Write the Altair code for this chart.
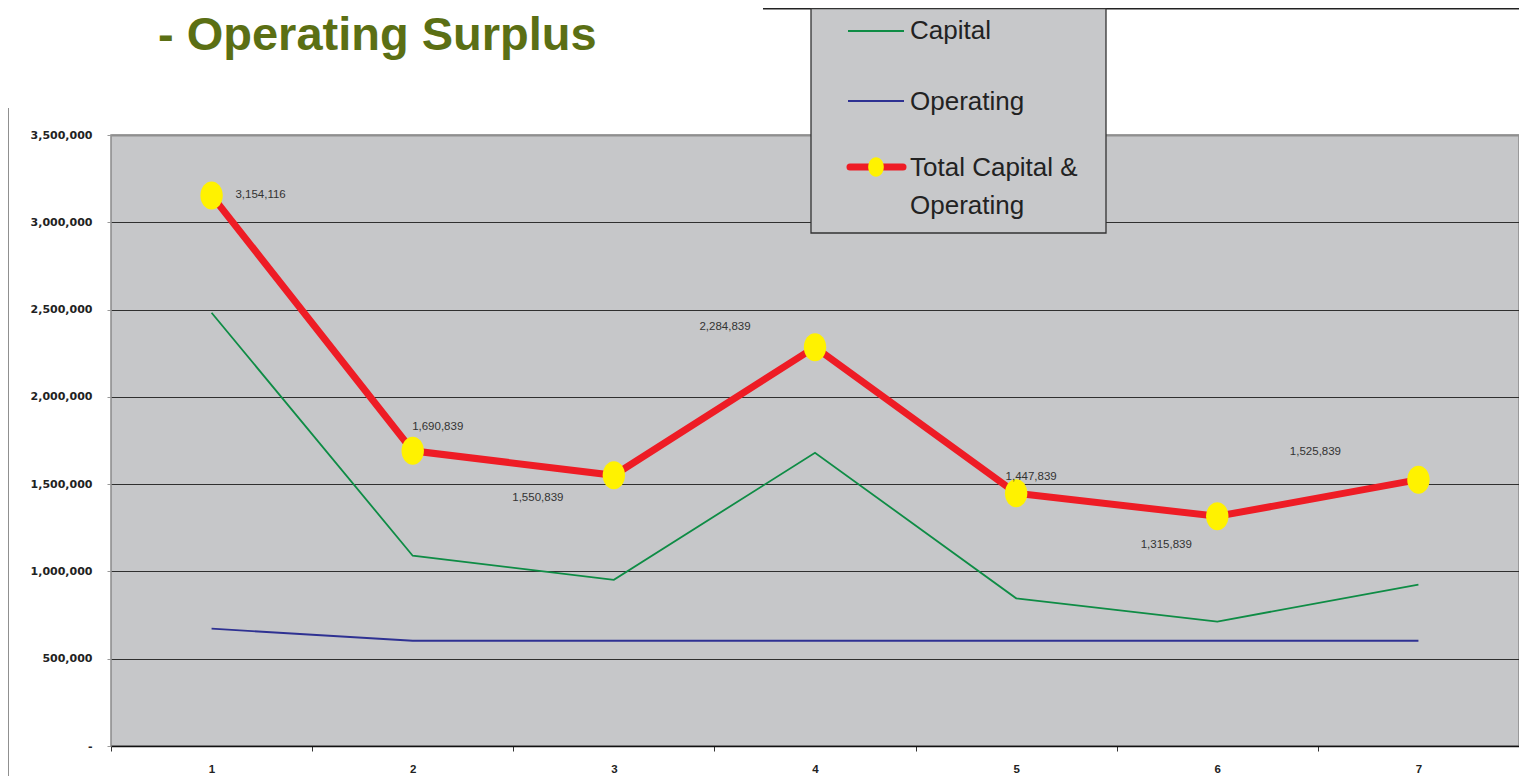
import altair as alt
import pandas as pd

# ---- data ----
periods = [1, 2, 3, 4, 5, 6, 7]
capital = [2482000, 1090000, 952000, 1680000, 846000, 713000, 924000]
operating = [672000, 603000, 603000, 603000, 603000, 603000, 603000]
total = [3154116, 1690839, 1550839, 2284839, 1447839, 1315839, 1525839]
y_ticks = [0, 500000, 1000000, 1500000, 2000000, 2500000, 3000000, 3500000]
x_ticks = [0.5, 1.5, 2.5, 3.5, 4.5, 5.5, 6.5, 7.5]
legend_labels = ["Capital", "Operating", "Total Capital &\nOperating"]
title_text = "- Operating Surplus"

df = pd.DataFrame({"period": periods, "capital": capital,
                   "operating": operating, "total": total})
one = pd.DataFrame({"k": [0]})

# ---- style ----
W, H = 1408, 611
GREEN = "#0e8c45"
BLUE = "#2e3192"
RED = "#ee1c25"
YELLOW = "#fff200"
OLIVE = "#5b6f14"
SANS = "Liberation Sans"
ELLIPSE = "M 0.8 0 A 0.8 1 0 1 1 -0.8 0 A 0.8 1 0 1 1 0.8 0 Z"

xscale = alt.Scale(domain=[0.5, 7.5], nice=False, zero=False)
yscale = alt.Scale(domain=[0, 3500000], nice=False)

x_enc = alt.X("period:Q", scale=xscale, title=None,
              axis=alt.Axis(values=x_ticks, grid=False,
                            labelExpr="datum.value < 7 ? format(datum.value + 0.5, 'd') : ''",
                            labelOffset=W / 14, labelFlush=False, labelOverlap=False,
                            labelFont=SANS, labelFontWeight="bold",
                            labelFontSize=11.5, labelColor="#222",
                            tickSize=5, tickColor="#333", labelPadding=12,
                            domainColor="#111", domainWidth=1.5))
y_axis = alt.Axis(values=y_ticks,
                  labelExpr="datum.value == 0 ? '-' : format(datum.value, ',')",
                  labelFont="DejaVu Sans", labelFontWeight="bold",
                  labelFontSize=11, labelColor="#222", labelPadding=15,
                  tickSize=4, tickColor="#999", domain=False,
                  gridColor={"condition": {"test": "datum.value >= 3500000", "value": "#8f8f8f"},
                             "value": "#2f2f2f"},
                  gridWidth={"condition": {"test": "datum.value >= 3500000", "value": 2},
                             "value": 1})

base = alt.Chart(df)

cap_line = base.mark_line(color=GREEN, strokeWidth=1.8).encode(
    x=x_enc, y=alt.Y("capital:Q", scale=yscale, axis=y_axis, title=None))
op_line = base.mark_line(color=BLUE, strokeWidth=1.8).encode(
    x=alt.X("period:Q", scale=xscale), y=alt.Y("operating:Q", scale=yscale))
tot_line = base.mark_line(color=RED, strokeWidth=7).encode(
    x=alt.X("period:Q", scale=xscale), y=alt.Y("total:Q", scale=yscale))
tot_pts = base.mark_point(shape=ELLIPSE, filled=True, fill=YELLOW, size=784,
                          opacity=1, strokeWidth=0).encode(
    x=alt.X("period:Q", scale=xscale), y=alt.Y("total:Q", scale=yscale))

label_dx = [49, 25, -76, -90, 15, -51, -103]
label_dy = [0, -24, 23, -20, -16, 29, -28]
label_layers = []
for p, dx, dy in zip(periods, label_dx, label_dy):
    label_layers.append(
        base.transform_filter(alt.datum.period == p).mark_text(
            dx=dx, dy=dy, font=SANS, fontSize=11.5, color="#333",
            align="center", baseline="middle").encode(
            x=alt.X("period:Q", scale=xscale), y=alt.Y("total:Q", scale=yscale),
            text=alt.Text("total:Q", format=",")))

# ---- decorations: outer frame lines, title, legend ----
oc = alt.Chart(one)
frame_left = oc.mark_rect(color="#222").encode(
    x=alt.value(-104), x2=alt.value(-102.5), y=alt.value(-27), y2=alt.value(660))
frame_top = oc.mark_rect(color="#222").encode(
    x=alt.value(652), x2=alt.value(1420), y=alt.value(-127), y2=alt.value(-125.5))
title = oc.mark_text(text=title_text, font=SANS, fontWeight="bold",
                     fontSize=47, color=OLIVE, align="left",
                     baseline="alphabetic").encode(
    x=alt.value(47), y=alt.value(-85))

leg_box = oc.mark_rect(fill="#c7c8ca", stroke="#333", strokeWidth=1.3).encode(
    x=alt.value(700), x2=alt.value(995), y=alt.value(-126.5), y2=alt.value(98))
leg_cap = oc.mark_rule(color=GREEN, strokeWidth=2).encode(
    x=alt.value(737), x2=alt.value(793), y=alt.value(-104))
leg_op = oc.mark_rule(color=BLUE, strokeWidth=2).encode(
    x=alt.value(737), x2=alt.value(793), y=alt.value(-34))
leg_tot = oc.mark_rule(color=RED, strokeWidth=7, strokeCap="round").encode(
    x=alt.value(739), x2=alt.value(792), y=alt.value(32))
leg_pt = oc.mark_point(shape=ELLIPSE, filled=True, fill=YELLOW, size=380,
                       opacity=1, strokeWidth=0).encode(
    x=alt.value(765), y=alt.value(32))
leg_t1 = oc.mark_text(text=legend_labels[0], font=SANS, fontSize=26, color="#222",
                      align="left", baseline="middle").encode(
    x=alt.value(799), y=alt.value(-104))
leg_t2 = oc.mark_text(text=legend_labels[1], font=SANS, fontSize=26, color="#222",
                      align="left", baseline="middle").encode(
    x=alt.value(799), y=alt.value(-33))
leg_t3 = oc.mark_text(text=legend_labels[2].split("\n"), font=SANS, fontSize=26,
                      color="#222", align="left", baseline="middle",
                      lineHeight=38).encode(
    x=alt.value(799), y=alt.value(33))

chart = alt.layer(
    cap_line, op_line, tot_line, tot_pts, *label_layers,
    frame_left, frame_top, title,
    leg_box, leg_cap, leg_op, leg_tot, leg_pt, leg_t1, leg_t2, leg_t3,
).properties(
    width=W, height=H,
    autosize=alt.AutoSizeParams(type="none"),
    padding={"left": 103, "top": 127, "right": 0, "bottom": 30},
    background="white",
).configure_view(
    fill="#c6c7c9", stroke="#8a8a8a", strokeWidth=1.5
)

chart.save("out.html", embed_options={"renderer": "svg", "actions": False})
